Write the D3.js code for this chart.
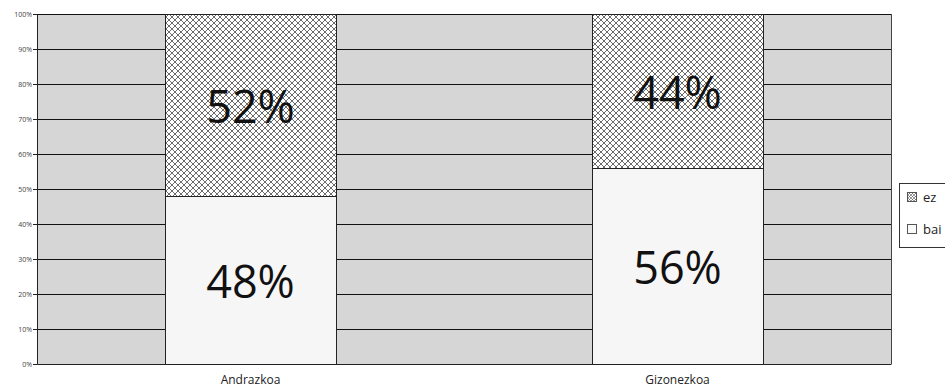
<!DOCTYPE html>
<html>
<head>
<meta charset="utf-8">
<script src="https://cdn.jsdelivr.net/npm/d3@7"></script>
<style>
  html, body { margin: 0; padding: 0; background: #fff; }
  svg { display: block; }
</style>
</head>
<body>
<svg id="chart" width="945" height="389"></svg>
<script>
// Stacked 100% columns: share of "bai" and "ez" answers by gender
const categories = ["Andrazkoa", "Gizonezkoa"];
const seriesNames = ["bai", "ez"];
const baiValues = [48, 56];
const ezValues = [52, 44];
const yTicks = [0, 10, 20, 30, 40, 50, 60, 70, 80, 90, 100];

const svg = d3.select("#chart");
const margin = { left: 37, top: 14, right: 54, bottom: 25 };
const W = 945, H = 389;
const plotW = W - margin.left - margin.right;
const plotH = H - margin.top - margin.bottom;

// cross-hatch pattern for the "ez" segments
const defs = svg.append("defs");
const pat = defs.append("pattern")
  .attr("id", "hatch")
  .attr("patternUnits", "userSpaceOnUse")
  .attr("width", 6).attr("height", 6);
pat.append("rect").attr("width", 6).attr("height", 6).attr("fill", "#ffffff");
pat.append("path")
  .attr("d", "M0,0 L6,6 M6,0 L0,6 M-3,3 L3,9 M3,-3 L9,3 M3,-3 L-3,3 M9,3 L3,9")
  .attr("stroke", "#3a3a3a").attr("stroke-width", 0.75).attr("fill", "none");

const small = defs.append("pattern")
  .attr("id", "hatchSmall")
  .attr("patternUnits", "userSpaceOnUse")
  .attr("width", 3).attr("height", 3);
small.append("rect").attr("width", 3).attr("height", 3).attr("fill", "#fff");
small.append("path").attr("d", "M0,0 L3,3 M3,0 L0,3")
  .attr("stroke", "#555").attr("stroke-width", 0.6);

const g = svg.append("g").attr("transform", `translate(${margin.left},${margin.top})`);

const x = d3.scaleBand().domain(categories).range([0, plotW]).paddingInner(0.6).paddingOuter(0.3);
const y = d3.scaleLinear().domain([0, 100]).range([plotH, 0]);

// plot background
g.append("rect").attr("width", plotW).attr("height", plotH).attr("fill", "#d6d6d6");

// gridlines
g.append("g").selectAll("line").data(yTicks.filter(d => d > 0)).join("line")
  .attr("x1", 0).attr("x2", plotW)
  .attr("y1", d => Math.round(y(d)) + 0.5).attr("y2", d => Math.round(y(d)) + 0.5)
  .attr("stroke", "#111").attr("stroke-width", 1);

// right border of plot area
g.append("line")
  .attr("x1", plotW + 0.5).attr("x2", plotW + 0.5).attr("y1", 0).attr("y2", plotH)
  .attr("stroke", "#444").attr("stroke-width", 1);

// stacked data
const rows = categories.map((c, i) => ({ cat: c, bai: baiValues[i], ez: ezValues[i] }));
const stack = d3.stack().keys(seriesNames)(rows);
const fills = { bai: "#f6f6f6", ez: "url(#hatch)" };

stack.forEach(layer => {
  g.append("g").selectAll("rect").data(layer).join("rect")
    .attr("x", d => Math.round(x(d.data.cat)) + 0.5)
    .attr("width", Math.round(x.bandwidth()))
    .attr("y", d => Math.round(y(d[1])) + 0.5)
    .attr("height", d => Math.round(y(d[0])) - Math.round(y(d[1])))
    .attr("fill", fills[layer.key])
    .attr("stroke", "#222").attr("stroke-width", 1);
});

// value labels
stack.forEach(layer => {
  g.append("g").selectAll("text").data(layer).join("text")
    .attr("x", d => x(d.data.cat) + x.bandwidth() / 2)
    .attr("y", d => (y(d[0]) + y(d[1])) / 2 + 1.5)
    .attr("dy", "0.36em")
    .attr("text-anchor", "middle")
    .attr("font-family", "'Open Sans', sans-serif")
    .attr("font-size", 45)
    .attr("fill", "#111")
    .text(d => (d[1] - d[0]) + "%");
});

// y axis
const yAxis = d3.axisLeft(y).tickValues(yTicks).tickFormat(d => d + "%").tickSize(4).tickPadding(1);
const ya = g.append("g").call(yAxis);
ya.select(".domain").attr("stroke", "#222");
ya.selectAll(".tick line").attr("stroke", "#222");
ya.selectAll(".tick text")
  .attr("font-family", "'Open Sans', sans-serif").attr("font-size", 7).attr("fill", "#444");

// x axis
const xa = g.append("g").attr("transform", `translate(0,${plotH})`)
  .call(d3.axisBottom(x).tickSize(0).tickPadding(11));
xa.select(".domain").attr("stroke", "#222");
xa.selectAll(".tick text")
  .attr("font-family", "'Open Sans', sans-serif").attr("font-size", 12).attr("fill", "#222");

// legend
const leg = svg.append("g").attr("transform", "translate(899,183)");
leg.append("rect").attr("x", 0.5).attr("y", 0.5).attr("width", 70).attr("height", 64)
  .attr("fill", "#fff").attr("stroke", "#333");
const legendItems = ["ez", "bai"];
legendItems.forEach((k, i) => {
  const yy = 14 + i * 32;
  leg.append("rect").attr("x", 8.5).attr("y", yy - 4.5).attr("width", 9).attr("height", 9)
    .attr("fill", k === "ez" ? "url(#hatchSmall)" : "#fafafa").attr("stroke", "#555");
  leg.append("text").attr("x", 24).attr("y", yy).attr("dy", "0.36em")
    .attr("font-family", "'Open Sans', sans-serif").attr("font-size", 13).attr("fill", "#222")
    .text(k);
});
</script>
</body>
</html>
